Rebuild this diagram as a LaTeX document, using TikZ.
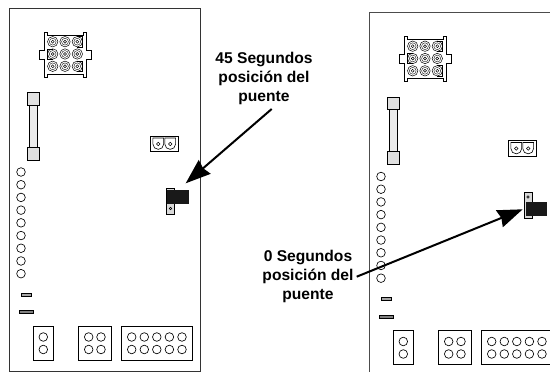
\documentclass[tikz,border=0pt]{standalone}
\usepackage{fontspec}
\setmainfont{Liberation Sans}
\usepackage{tikz}
\usetikzlibrary{arrows.meta}
\tikzset{
    hole/.style={circle,draw,line width=.65pt,minimum size=8.6pt,inner sep=0pt},
    smallhole/.style={circle,draw,line width=.5pt,minimum size=3.6pt,inner sep=0pt},
    part/.style={draw,line width=.7pt,fill=white},
    labeltext/.style={font=\bfseries\fontsize{15.6}{18.7}\selectfont,align=center,inner sep=0pt},
    pointer/.style={line width=2pt,-{Stealth[length=25pt,width=18pt,inset=2pt]}}
}
% one pin of the nine pin plug, flat side given by #3
\newcommand{\plugpin}[3]{
    \draw[line width=.5pt] (#1,#2) circle (5.2);
    \draw[line width=.35pt] (#1,#2) circle (3.4);
    \draw[line width=.45pt] (#1,#2) circle (1.5);
    \ifnum#3=1
    \draw[line width=.5pt] (#1,#2-5.2) -- (#1+5.2,#2-5.2) -- (#1+5.2,#2+5.2) -- (#1,#2+5.2);
    \fi
    \ifnum#3=2
    \draw[line width=.5pt] (#1,#2-5.2) -- (#1-5.2,#2-5.2) -- (#1-5.2,#2+5.2) -- (#1,#2+5.2);
    \fi
}
\begin{document}
\begin{tikzpicture}[x=1pt,y=-1pt]
\useasboundingbox (0,0) rectangle (550,372);

% left board outline, right board runs off the page
\draw[line width=.8pt,draw=black!80] (9.5,8.5) rectangle (200,371);
\draw[line width=.8pt,draw=black!70] (550,12.7) -- (369.7,12.7) -- (369.7,372);

\foreach \dx/\dy/\px in {0/0/0,360/4.5/-2}{
\begin{scope}[shift={(\dx,\dy)}]
% plug
\draw[part,line width=.6pt] (44.7,32) -- (47.5,32) -- (47.5,35) -- (83,35) -- (83,32) -- (86,32) -- (86,50) -- (91,50) -- (91,59)
    -- (86,59) -- (86,77) -- (83,77) -- (83,74) -- (47.5,74) -- (47.5,77) -- (44.7,77) -- (44.7,59) -- (39,59)
    -- (39,50) -- (44.7,50) -- cycle;
\plugpin{52.7}{41.7}{0}
\plugpin{65}{41.7}{0}
\plugpin{77.3}{41.7}{1}
\plugpin{52.7}{54}{2}
\plugpin{65}{54}{0}
\plugpin{77.3}{54}{0}
\plugpin{52.7}{66.3}{0}
\plugpin{65}{66.3}{0}
\plugpin{77.3}{66.3}{1}

% fuse
\draw[line width=.6pt,fill=black!8] (29,105) rectangle (37.5,147);
\draw[line width=1pt,fill=black!12] (27.8,92.5) rectangle (39,105);
\draw[line width=1pt,fill=black!12] (27.8,147) rectangle (39,160);

% two pin plug
\begin{scope}[xshift=\px]
\draw[part] (150,136) rectangle (178.7,151.7);
\foreach \x in {158.3,170.2}{
    \draw[line width=.6pt] (\x-5.4,138) -- (\x+5.4,138) -- (\x+5.4,144) arc (0:180:5.4) -- cycle;
    \node[smallhole] (plughole\x) at (\x,144) {};
}
\end{scope}

% row of holes
\foreach \i in {0,...,8}{
    \node[hole] (led\i) at (21,{172+12.71*\i}) {};
}

% small parts
\draw[line width=.7pt,fill=black!35] (21.3,293.2) rectangle (31.5,296.2);
\draw[line width=.7pt,fill=black!50] (19.3,310.4) rectangle (33.5,313.4);

% bottom blocks
\draw[part] (33.3,326) rectangle (53.7,360);
\draw[part] (78.3,326) rectangle (111.7,360);
\draw[part] (121.3,326) rectangle (192.7,360);
\foreach \x in {43.3,88.7,101,131.7,144.3,156.8,169.4,182}{
    \node[hole] (top\x) at (\x,337) {};
    \node[hole] (bot\x) at (\x,349.5) {};
}
\end{scope}
}

% jumpers
\draw[line width=.8pt,fill=black!15] (166.3,188.3) rectangle (174.6,214);
\node[smallhole,minimum size=2.6pt] (hole45) at (170.5,208.5) {};
\fill[black!90] (167.3,189.5) rectangle (189.3,203.7);
\coordinate (tip45) at (185.7,183.3);

\draw[line width=.8pt,fill=black!15] (524,192.3) rectangle (532,218);
\node[smallhole,minimum size=2.6pt] (hole0) at (528,197) {};
\fill[black!90] (526,202) rectangle (547.3,216);
\coordinate (tip0) at (522.7,209.3);

% labels
\node[labeltext] (label45) at (264,78.5) {45 Segundos\\posición del\\puente};
\node[labeltext] (label0) at (308,276.5) {0 Segundos\\posición del\\puente};
\coordinate (start45) at (271.7,109);
\coordinate (start0) at (356.7,276.7);

\draw[pointer] (start45) -- (tip45);
\draw[pointer] (start0) -- (tip0);

\end{tikzpicture}
\end{document}
